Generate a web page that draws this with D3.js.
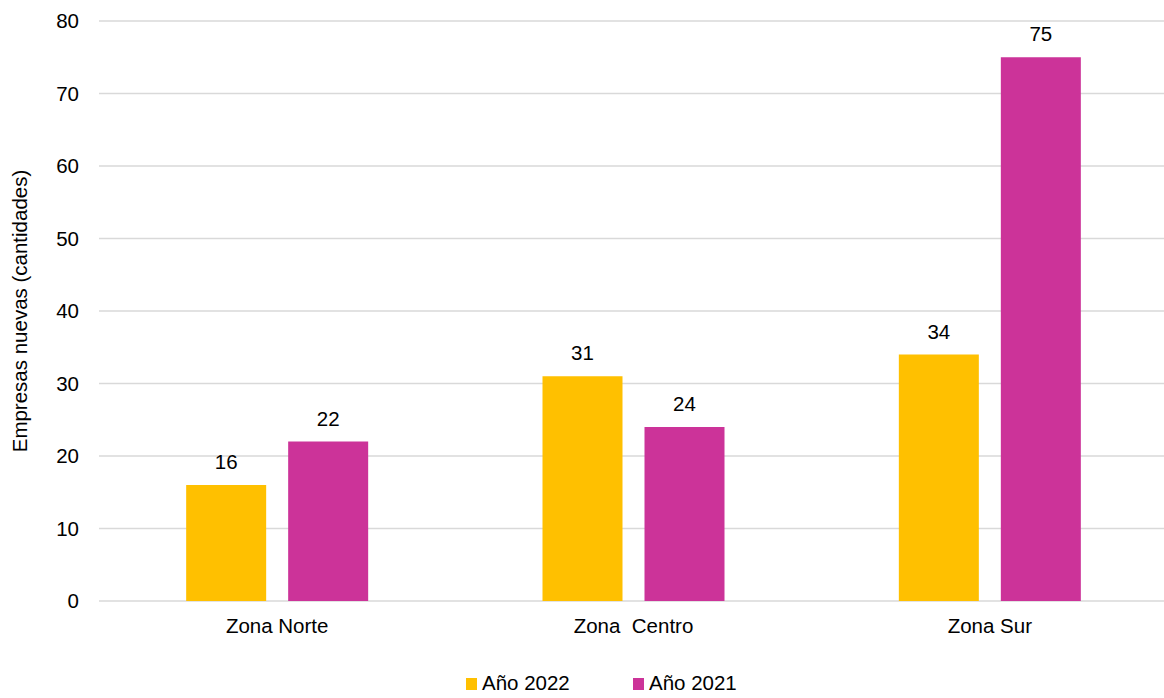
<!DOCTYPE html>
<html>
<head>
<meta charset="utf-8">
<script src="https://cdn.jsdelivr.net/npm/d3@7"></script>
<style>
  body { margin: 0; background: #fff; }
  text { font-family: "Liberation Sans", Arial, sans-serif; fill: #000; }
</style>
</head>
<body>
<div id="chart"></div>
<script>
const zones = ["Zona Norte", "Zona  Centro", "Zona Sur"];
const seriesNames = ["Año 2022", "Año 2021"];
const values2022 = [16, 31, 34];
const values2021 = [22, 24, 75];
const yTicks = [0, 10, 20, 30, 40, 50, 60, 70, 80];
const colors = ["#FFC000", "#CC3399"];

const width = 1164, height = 698;
const margin = { top: 21, right: -4, bottom: 97, left: 99 };
const fs = "20.5px";

const svg = d3.select("#chart").append("svg")
    .attr("width", width)
    .attr("height", height);

const x = d3.scaleBand()
    .domain(zones)
    .range([margin.left, width - margin.right]);

const y = d3.scaleLinear()
    .domain([0, 80])
    .range([height - margin.bottom, margin.top]);

const barW = 80, barGap = 22;
const rows = zones.map((z, i) => ({ zone: z, vals: [values2022[i], values2021[i]] }));

// gridlines
svg.append("g")
    .selectAll("line")
    .data(yTicks)
    .join("line")
    .attr("x1", margin.left)
    .attr("x2", width)
    .attr("y1", d => y(d))
    .attr("y2", d => y(d))
    .attr("stroke", "#d9d9d9")
    .attr("stroke-width", 1.3);

// y tick labels
svg.append("g")
    .selectAll("text")
    .data(yTicks)
    .join("text")
    .attr("x", 79)
    .attr("y", d => y(d))
    .attr("dy", "0.35em")
    .attr("text-anchor", "end")
    .style("font-size", fs)
    .text(d => d);

// bars
const groups = svg.append("g")
    .selectAll("g")
    .data(rows)
    .join("g")
    .attr("transform", d => `translate(${x(d.zone) + x.bandwidth() / 2},0)`);

groups.selectAll("rect")
    .data(d => d.vals)
    .join("rect")
    .attr("x", (d, i) => i === 0 ? -barW - barGap / 2 : barGap / 2)
    .attr("width", barW)
    .attr("y", d => y(d))
    .attr("height", d => y(0) - y(d))
    .attr("fill", (d, i) => colors[i]);

groups.selectAll("text.val")
    .data(d => d.vals)
    .join("text")
    .attr("class", "val")
    .attr("x", (d, i) => (i === 0 ? -barW - barGap / 2 : barGap / 2) + barW / 2)
    .attr("y", d => y(d) - 16)
    .attr("text-anchor", "middle")
    .style("font-size", fs)
    .text(d => d);

// x labels
svg.append("g")
    .selectAll("text")
    .data(zones)
    .join("text")
    .attr("x", d => x(d) + x.bandwidth() / 2)
    .attr("y", y(0) + 32)
    .attr("text-anchor", "middle")
    .style("font-size", fs)
    .style("white-space", "pre")
    .text(d => d);

// y axis title
svg.append("text")
    .attr("transform", `translate(27,${(y(0) + y(80)) / 2}) rotate(-90)`)
    .attr("text-anchor", "middle")
    .style("font-size", fs)
    .text("Empresas nuevas (cantidades)");

// legend
const legendX = [466, 633];
const legend = svg.append("g")
    .selectAll("g")
    .data(seriesNames)
    .join("g")
    .attr("transform", (d, i) => `translate(${legendX[i]},678)`);

legend.append("rect")
    .attr("width", 11)
    .attr("height", 12)
    .attr("fill", (d, i) => colors[i]);

legend.append("text")
    .attr("x", 16)
    .attr("y", 12)
    .style("font-size", fs)
    .text(d => d);
</script>
</body>
</html>
